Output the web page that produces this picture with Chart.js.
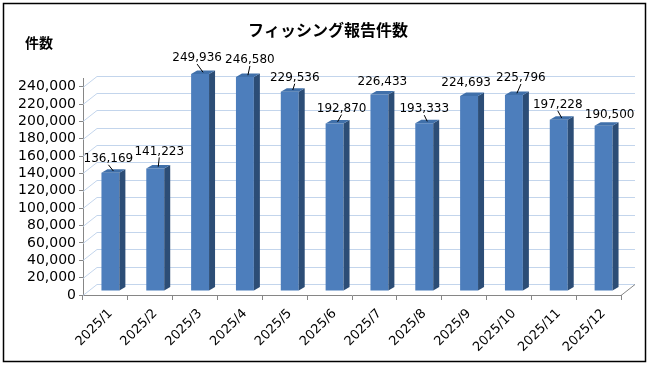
<!DOCTYPE html>
<html>
<head>
<meta charset="utf-8">
<script src="https://cdn.jsdelivr.net/npm/chart.js@4.4.1/dist/chart.umd.min.js"></script>
<style>
  body { margin: 0; background: #fff; }
  canvas { display: block; }
</style>
</head>
<body>
<canvas id="phishChart" width="654" height="365"></canvas>
<script>
  // 月別のフィッシング報告件数
  const months = ["2025/1", "2025/2", "2025/3", "2025/4", "2025/5", "2025/6",
                  "2025/7", "2025/8", "2025/9", "2025/10", "2025/11", "2025/12"];
  const reports = [136169, 141223, 249936, 246580, 229536, 192870,
                   226433, 193333, 224693, 225796, 197228, 190500];
  const yTicks = [0, 20000, 40000, 60000, 80000, 100000, 120000,
                  140000, 160000, 180000, 200000, 220000, 240000];
  const yMax = 250000;

  // label nudges (px) relative to the bar top, as Excel placed them
  const labelDx = [-2, 4, -3, 5, 5, 7, 3, 0, -3, 7, -1, 6];
  const labelDy = [-14, -17, -16, -17, -14, -15, -13, -14, -13, -17, -15, -11];

  (function initializeChart() {
    const ctx = document.getElementById("phishChart").getContext("2d");

    const FRONT = "#4d7ebc";
    const SIDE = "#2c4d76";
    const TOP = "#4070aa";
    const GRID = "#c3d5ec";
    const AXIS = "#868686";
    const wall = { dx: 14, dy: -11 };   // back wall offset
    const shift = { x: 5, y: -4 };      // bars sit in the middle of the depth
    const depth = { x: 6, y: -3.5 };    // bar side / top

    const fmt = (v) => v.toLocaleString("en-US");

    const box3d = {
      id: "box3d",
      beforeDatasetsDraw(chart) {
        const { ctx, chartArea: a, scales } = chart;
        const y = scales.y;
        ctx.save();
        ctx.lineWidth = 1;
        ctx.strokeStyle = GRID;
        yTicks.forEach((v) => {
          const py = Math.round(y.getPixelForValue(v)) + 0.5;
          ctx.beginPath();
          ctx.moveTo(a.left, py);
          ctx.lineTo(a.left + wall.dx, py + wall.dy);
          ctx.lineTo(a.right + wall.dx, py + wall.dy);
          ctx.stroke();
        });
        // right edge of the floor
        ctx.strokeStyle = AXIS;
        ctx.beginPath();
        ctx.moveTo(a.right, a.bottom + 0.5);
        ctx.lineTo(a.right + wall.dx, a.bottom + 0.5 + wall.dy);
        ctx.stroke();
        ctx.restore();

        ctx.save();
        ctx.translate(shift.x, shift.y);
      },
      afterDatasetsDraw(chart) {
        const { ctx } = chart;
        const meta = chart.getDatasetMeta(0);
        meta.data.forEach((bar) => {
          const p = bar.getProps(["x", "y", "base", "width"], true);
          const l = p.x - p.width / 2, r = p.x + p.width / 2;
          ctx.fillStyle = SIDE;
          ctx.beginPath();
          ctx.moveTo(r, p.y);
          ctx.lineTo(r + depth.x, p.y + depth.y);
          ctx.lineTo(r + depth.x, p.base + depth.y);
          ctx.lineTo(r, p.base);
          ctx.closePath();
          ctx.fill();
          ctx.fillStyle = TOP;
          ctx.beginPath();
          ctx.moveTo(l, p.y);
          ctx.lineTo(l + depth.x, p.y + depth.y);
          ctx.lineTo(r + depth.x, p.y + depth.y);
          ctx.lineTo(r, p.y);
          ctx.closePath();
          ctx.fill();
        });
        ctx.restore();

        // data labels with leader lines
        ctx.save();
        ctx.font = "12px 'DejaVu Sans'";
        ctx.fillStyle = "#000";
        ctx.strokeStyle = "#000";
        ctx.lineWidth = 1;
        ctx.textAlign = "center";
        ctx.textBaseline = "middle";
        meta.data.forEach((bar, i) => {
          const p = bar.getProps(["x", "y"], true);
          const bx = p.x + shift.x, by = p.y + shift.y;
          const lx = bx + labelDx[i], ly = by + labelDy[i];
          ctx.fillText(fmt(reports[i]), lx, ly);
          if (Math.abs(labelDy[i]) >= 14) {
            ctx.beginPath();
            ctx.moveTo(lx, ly + 6);
            ctx.lineTo(bx + depth.x / 2, by + depth.y / 2);
            ctx.stroke();
          }
        });
        ctx.restore();
      },
      afterDraw(chart) {
        const { ctx } = chart;
        ctx.save();
        ctx.fillStyle = "#000";
        ctx.textBaseline = "middle";
        ctx.textAlign = "center";
        ctx.font = "bold 16px 'Noto Sans CJK JP'";
        ctx.fillText("フィッシング報告件数", 328, 30);
        ctx.textAlign = "left";
        ctx.font = "bold 14px 'Noto Sans CJK JP'";
        ctx.fillText("件数", 25, 43);
        ctx.strokeStyle = "#000";
        ctx.lineWidth = 1.5;
        ctx.strokeRect(3.5, 3.5, 642, 358);
        ctx.restore();
      },
    };

    new Chart(ctx, {
      type: "bar",
      data: {
        labels: months,
        datasets: [
          {
            label: "報告件数",
            data: reports,
            backgroundColor: FRONT,
            borderWidth: 0,
            barPercentage: 0.4,
            categoryPercentage: 1,
            clip: false,
          },
        ],
      },
      options: {
        responsive: false,
        animation: false,
        layout: { padding: { top: 78, right: 33, left: 0, bottom: 0 } },
        plugins: {
          legend: { display: false },
          tooltip: { enabled: false },
        },
        scales: {
          x: {
            grid: { drawOnChartArea: false, color: AXIS, tickLength: 5, offset: true },
            border: { color: AXIS },
            ticks: {
              color: "#000",
              font: { family: "DejaVu Sans", size: 13 },
              minRotation: 45,
              maxRotation: 45,
              autoSkip: false,
              labelOffset: 5,
              padding: 6,
            },
            afterFit(scale) { scale.height = 70; },
          },
          y: {
            min: 0,
            max: yMax,
            grid: { drawOnChartArea: false, color: AXIS, tickLength: 4 },
            border: { color: AXIS },
            ticks: {
              autoSkip: false,
              color: "#000",
              font: { family: "DejaVu Sans", size: 14 },
              padding: 3,
              callback: (v) => fmt(v),
            },
            afterBuildTicks(scale) {
              scale.ticks = yTicks.map((v) => ({ value: v }));
            },
            afterFit(scale) { scale.width = 83; },
          },
        },
      },
      plugins: [box3d],
    });
  })();
</script>
</body>
</html>
